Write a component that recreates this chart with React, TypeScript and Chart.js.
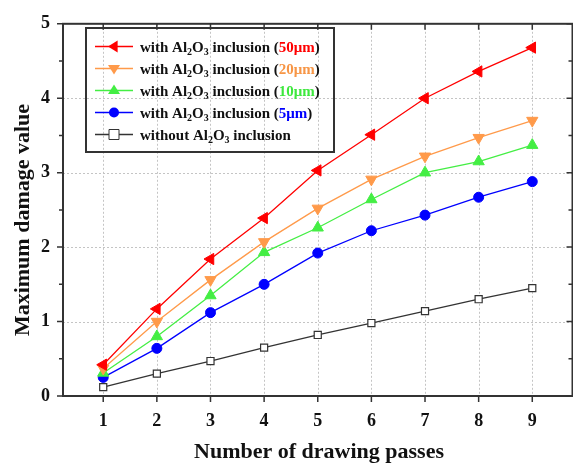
import React, { useEffect, useRef } from "react";
import { Chart, registerables } from "chart.js";
Chart.register(...registerables);

const passes = [1, 2, 3, 4, 5, 6, 7, 8, 9];
const d50 = [0.42, 1.17, 1.84, 2.39, 3.03, 3.51, 4.0, 4.36, 4.68];
const d20 = [0.37, 1.0, 1.56, 2.07, 2.52, 2.91, 3.22, 3.47, 3.7];
const d10 = [0.31, 0.8, 1.35, 1.93, 2.26, 2.64, 3.0, 3.15, 3.37];
const d5 = [0.25, 0.64, 1.12, 1.5, 1.92, 2.22, 2.43, 2.67, 2.88];
const d0 = [0.12, 0.3, 0.47, 0.65, 0.82, 0.98, 1.14, 1.3, 1.45];
const yTickValues = [0, 1, 2, 3, 4, 5];
const xTitle = "Number of drawing passes";
const yTitle = "Maximum damage value";
const legendSizes = ["50μm", "20μm", "10μm", "5μm", ""];
const seriesColors = ["#ff0000", "#ff9a4a", "#44ee44", "#0000ff", "#333333"];
const textColors = ["#ff0000", "#f79646", "#3ee83e", "#0000ff", "#000000"];

const SERIF = '"Liberation Serif", "Times New Roman", serif';

function drawMarker(ctx: CanvasRenderingContext2D, kind: number, x: number, y: number, color: string) {
  ctx.save();
  ctx.fillStyle = color;
  ctx.strokeStyle = color;
  ctx.lineWidth = 1;
  const r = 6;
  ctx.beginPath();
  if (kind === 0) {
    ctx.moveTo(x - r, y);
    ctx.lineTo(x + r * 0.6, y - r);
    ctx.lineTo(x + r * 0.6, y + r);
    ctx.closePath();
    ctx.fill();
  } else if (kind === 1) {
    ctx.moveTo(x, y + r);
    ctx.lineTo(x - r, y - r * 0.6);
    ctx.lineTo(x + r, y - r * 0.6);
    ctx.closePath();
    ctx.fill();
  } else if (kind === 2) {
    ctx.moveTo(x, y - r);
    ctx.lineTo(x - r, y + r * 0.6);
    ctx.lineTo(x + r, y + r * 0.6);
    ctx.closePath();
    ctx.fill();
  } else if (kind === 3) {
    ctx.arc(x, y, 5, 0, Math.PI * 2);
    ctx.fill();
  } else {
    ctx.fillStyle = "#ffffff";
    ctx.strokeStyle = "#333333";
    ctx.rect(x - 5, y - 5, 10, 10);
    ctx.fill();
    ctx.stroke();
  }
  ctx.restore();
}

const gridPlugin = {
  id: "gridPlugin",
  beforeDatasetsDraw(chart: any) {
    const ctx: CanvasRenderingContext2D = chart.ctx;
    const { left, right, top, bottom } = chart.chartArea;
    const xs = chart.scales.x;
    const ys = chart.scales.y;
    ctx.save();
    ctx.strokeStyle = "#c4c4c4";
    ctx.lineWidth = 1;
    ctx.setLineDash([2, 2]);
    ctx.beginPath();
    for (const v of passes) {
      const px = Math.round(xs.getPixelForValue(v)) + 0.5;
      ctx.moveTo(px, top);
      ctx.lineTo(px, bottom);
    }
    for (const v of yTickValues) {
      if (v === 0 || v === 5) continue;
      const py = Math.round(ys.getPixelForValue(v)) + 0.5;
      ctx.moveTo(left, py);
      ctx.lineTo(right, py);
    }
    ctx.stroke();
    ctx.restore();
  },
};

const framePlugin = {
  id: "framePlugin",
  afterDraw(chart: any) {
    const ctx: CanvasRenderingContext2D = chart.ctx;
    const { left, right, top, bottom } = chart.chartArea;
    const xs = chart.scales.x;
    const ys = chart.scales.y;
    ctx.save();
    ctx.strokeStyle = "#333333";
    ctx.lineWidth = 2;
    ctx.strokeRect(left, top, right - left, bottom - top);
    ctx.lineWidth = 1.5;
    ctx.beginPath();
    for (let v = 0; v <= 5.001; v += 0.5) {
      const py = ys.getPixelForValue(v);
      const major = Math.abs(v - Math.round(v)) < 0.01;
      const len = major ? 6 : 4;
      ctx.moveTo(left - len, py);
      ctx.lineTo(left, py);
      ctx.moveTo(right, py);
      ctx.lineTo(right - len, py);
    }
    for (const v of passes) {
      const px = xs.getPixelForValue(v);
      ctx.moveTo(px, bottom);
      ctx.lineTo(px, bottom + 6);
      ctx.moveTo(px, top);
      ctx.lineTo(px, top + 6);
    }
    ctx.stroke();

    // axis titles
    ctx.fillStyle = "#111111";
    ctx.font = `bold 22px ${SERIF}`;
    ctx.textAlign = "center";
    ctx.textBaseline = "alphabetic";
    ctx.fillText(xTitle, 319, 458);
    ctx.save();
    ctx.translate(29, 220);
    ctx.rotate(-Math.PI / 2);
    ctx.fillText(yTitle, 0, 0);
    ctx.restore();

    // legend
    const bx = 86, by = 28, bw = 248, bh = 124;
    ctx.lineWidth = 2;
    ctx.strokeStyle = "#333333";
    ctx.strokeRect(bx, by, bw, bh);
    ctx.textAlign = "left";
    for (let i = 0; i < 5; i++) {
      const ry = 46.5 + i * 22;
      const c = seriesColors[i];
      ctx.strokeStyle = c;
      ctx.lineWidth = 1.3;
      ctx.beginPath();
      ctx.moveTo(95, ry);
      ctx.lineTo(133, ry);
      ctx.stroke();
      drawMarker(ctx, i, 114, ry, c);
      let x = 140;
      const base = ry + 5;
      const seg = (t: string, sub: boolean, color: string) => {
        ctx.font = sub ? `bold 10px ${SERIF}` : `bold 15px ${SERIF}`;
        ctx.fillStyle = color;
        ctx.fillText(t, x, sub ? base + 3 : base);
        x += ctx.measureText(t).width;
      };
      const k = "#111111";
      seg(i < 4 ? "with Al" : "without Al", false, k);
      seg("2", true, k);
      seg("O", false, k);
      seg("3", true, k);
      if (i < 4) {
        seg(" inclusion (", false, k);
        seg(legendSizes[i], false, textColors[i]);
        seg(")", false, k);
      } else {
        seg(" inclusion", false, k);
      }
    }
    ctx.restore();
  },
};

export default function App() {
  const ref = useRef<HTMLCanvasElement>(null);
  useEffect(() => {
    if (!ref.current) return;
    const mk = (label: string, data: number[], i: number) => {
      const styles: any[] = ["triangle", "triangle", "triangle", "circle", "rect"];
      const rot = [-90, 180, 0, 0, 0];
      return {
        label,
        data: passes.map((p, j) => ({ x: p, y: data[j] })),
        borderColor: seriesColors[i],
        backgroundColor: i === 4 ? "#ffffff" : seriesColors[i],
        pointBorderColor: seriesColors[i],
        pointBackgroundColor: i === 4 ? "#ffffff" : seriesColors[i],
        pointStyle: styles[i],
        pointRotation: rot[i],
        pointRadius: i === 3 ? 5 : i === 4 ? 5 : 6.5,
        pointBorderWidth: i === 4 ? 1.2 : 1,
        borderWidth: 1.3,
        tension: 0,
        clip: false as any,
      };
    };
    const chart = new Chart(ref.current, {
      type: "line",
      data: {
        datasets: [
          mk("50", d50, 0),
          mk("20", d20, 1),
          mk("10", d10, 2),
          mk("5", d5, 3),
          mk("0", d0, 4),
        ],
      },
      options: {
        animation: false,
        responsive: false,
        layout: { padding: { left: 0, top: 16, right: 6, bottom: 0 } },
        plugins: { legend: { display: false }, tooltip: { enabled: false } },
        scales: {
          x: {
            type: "linear",
            min: 0.25,
            max: 9.75,
            afterBuildTicks: (s: any) => {
              s.ticks = passes.map((v) => ({ value: v }));
            },
            afterFit: (s: any) => {
              s.height = 71;
            },
            grid: { display: false, drawTicks: false },
            border: { display: false },
            ticks: {
              padding: 15,
              color: "#111111",
              font: { family: SERIF, size: 18, weight: "bold" },
            },
          },
          y: {
            type: "linear",
            min: 0,
            max: 5,
            afterBuildTicks: (s: any) => {
              s.ticks = yTickValues.map((v) => ({ value: v }));
            },
            afterFit: (s: any) => {
              s.width = 63;
            },
            grid: { display: false, drawTicks: false },
            border: { display: false },
            ticks: {
              padding: 13,
              color: "#111111",
              font: { family: SERIF, size: 18, weight: "bold" },
            },
          },
        },
      },
      plugins: [gridPlugin, framePlugin],
    } as any);
    return () => chart.destroy();
  }, []);
  return (
    <div style={{ position: "fixed", left: 0, top: 0, width: 573, height: 467, overflow: "hidden", background: "#fff" }}>
      <canvas ref={ref} width={580} height={467} style={{ display: "block" }} />
    </div>
  );
}
